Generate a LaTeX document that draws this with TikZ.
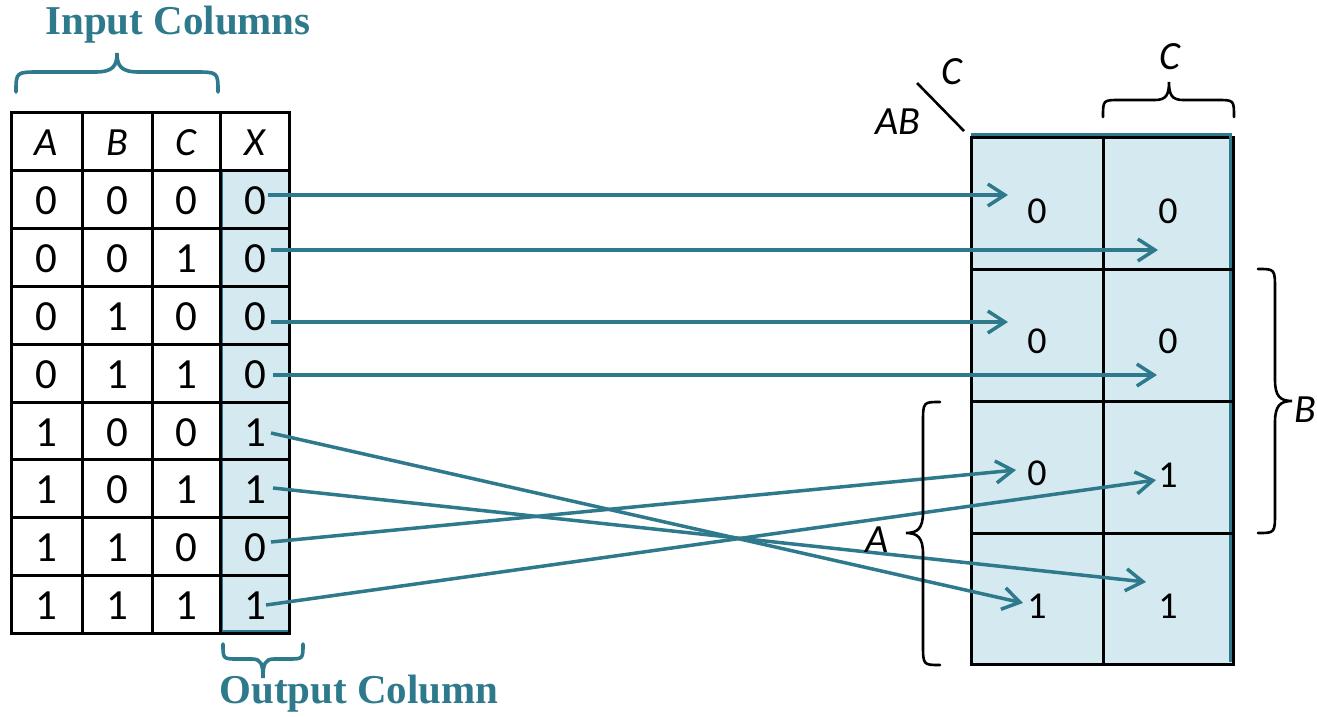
\documentclass[tikz,border=0pt]{standalone}
\usepackage{fontspec}
\setmainfont{Carlito}
\newfontfamily\labfont{Liberation Serif}
\usetikzlibrary{arrows.meta}
\definecolor{teal1}{HTML}{2E7A8C}
\definecolor{cellblue}{HTML}{D5EAF0}
\begin{document}
\begin{tikzpicture}[x=1pt,y=-1pt,
 cell/.style={inner sep=0pt, font=\fontsize{43}{45}\selectfont},
 kcell/.style={inner sep=0pt, font=\fontsize{38}{40}\selectfont},
 hdr/.style={inner sep=0pt, font=\fontsize{40}{42}\selectfont\itshape},
 grid/.style={line width=3pt, black},
 conn/.style={teal1, line width=3.5pt, -{Straight Barb[length=17pt,width=22pt]}},
 bracepath/.style={line width=2.6pt, line cap=round},
 tbrace/.style={teal1, line width=3.6pt, line cap=round},
 title/.style={teal1, inner sep=0pt, font=\labfont\bfseries\fontsize{41}{43}\selectfont}
]
\useasboundingbox (0,0) rectangle (1317,717);

% ---- truth table ----
\fill[cellblue] (220,170) rectangle (289,633);
\draw[teal1, line width=2pt] (222,170) -- (222,631) -- (289,631);
\draw[grid] (11,112) rectangle (289,633);
\foreach \x in {82,152,220} \draw[grid] (\x,112) -- (\x,633);
\foreach \y in {170,228,286,344,402,459,517,575} \draw[grid] (11,\y) -- (289,\y);

\node[hdr] (hA) at (46,143) {A};
\node[hdr] (hB) at (117,143) {B};
\node[hdr] (hC) at (186,143) {C};
\node[hdr] (hX) at (255,143) {X};

\foreach \r/\y/\a/\b/\c/\o in {1/201/0/0/0/0, 2/259/0/0/1/0, 3/317/0/1/0/0, 4/375/0/1/1/0, 5/433/1/0/0/1, 6/490/1/0/1/1, 7/548/1/1/0/0, 8/606/1/1/1/1}{
  \node[cell] (a\r) at (46,\y) {\a};
  \node[cell] (b\r) at (117,\y) {\b};
  \node[cell] (c\r) at (186,\y) {\c};
  \node[cell] (x\r) at (255,\y) {\o};
}

% ---- K-map ----
\fill[cellblue] (971,135) rectangle (1232,664);
\draw[grid] (971,137) rectangle (1233,664);
\draw[teal1, line width=3pt] (971,134.5) -- (1230,134.5) -- (1230,662);
\draw[grid] (1103,137) -- (1103,664);
\foreach \y in {269,401,533} \draw[grid] (971,\y) -- (1233,\y);

\node[kcell] (k11) at (1037,211) {0};
\node[kcell] (k12) at (1168,211) {0};
\node[kcell] (k21) at (1037,341) {0};
\node[kcell] (k22) at (1168,341) {0};
\node[kcell] (k31) at (1037,473) {0};
\node[kcell] (k32) at (1168,475) {1};
\node[kcell] (k41) at (1037,606) {1};
\node[kcell] (k42) at (1168,606) {1};

% ---- connectors ----
\coordinate (s1) at (268,195);
\coordinate (s2) at (271,250);
\coordinate (s3) at (271,322);
\coordinate (s4) at (273,375);
\coordinate (s5) at (271,433);
\coordinate (s6) at (273,488);
\coordinate (s7) at (271,542);
\coordinate (s8) at (266,605);
\coordinate (e1) at (1008,195);
\coordinate (e2) at (1158,250);
\coordinate (e3) at (1008,322);
\coordinate (e4) at (1157,375);
\coordinate (e5) at (1023,603);
\coordinate (e6) at (1146,582);
\coordinate (e7) at (1016,470);
\coordinate (e8) at (1156,480);
\foreach \i in {1,...,8} \draw[conn] (s\i) -- (e\i);

% ---- braces ----
\draw[tbrace] (16,92) .. controls (16,72) .. (40,72) -- (95,72)
  .. controls (113,72) and (117,66) .. (117,53)
  .. controls (117,66) and (121,72) .. (139,72) -- (194,72)
  .. controls (218,72) .. (218,92);
\node[title] (incol) at (178,25) {Input Columns};

\draw[tbrace] (223,644) .. controls (223,659) .. (238,659) -- (252,659)
  .. controls (261,659) and (263,664) .. (263,678)
  .. controls (263,664) and (265,659) .. (274,659) -- (288,659)
  .. controls (303,659) .. (303,644);
\node[title] (outcol) at (359,694) {Output Column};

\draw[bracepath] (1103,117) .. controls (1103,100) .. (1120,100) -- (1155,100)
  .. controls (1166,100) and (1169,95) .. (1169,82)
  .. controls (1169,95) and (1172,100) .. (1183,100) -- (1217,100)
  .. controls (1234,100) .. (1234,117);
\node[hdr] (lC2) at (1170,57) {C};

\draw[bracepath] (1258,269) .. controls (1275,269) .. (1275,290) -- (1275,380)
  .. controls (1275,396) and (1280,401) .. (1292,401)
  .. controls (1280,401) and (1275,406) .. (1275,422) -- (1275,512)
  .. controls (1275,533) .. (1258,533);
\node[hdr] (lB) at (1305,410) {B};

\draw[bracepath] (940,402) .. controls (923,402) .. (923,423) -- (923,512)
  .. controls (923,528) and (918,533) .. (906,533)
  .. controls (918,533) and (923,538) .. (923,554) -- (923,644)
  .. controls (923,665) .. (940,665);
\node[hdr] (lA) at (877,540) {A};

% ---- corner label ----
\node[hdr] (lAB) at (898,122) {AB};
\node[hdr] (lC1) at (952,72) {C};
\coordinate (d1) at (917,83);
\coordinate (d2) at (964,131);
\draw[line width=2.6pt] (d1) -- (d2);
\end{tikzpicture}
\end{document}
